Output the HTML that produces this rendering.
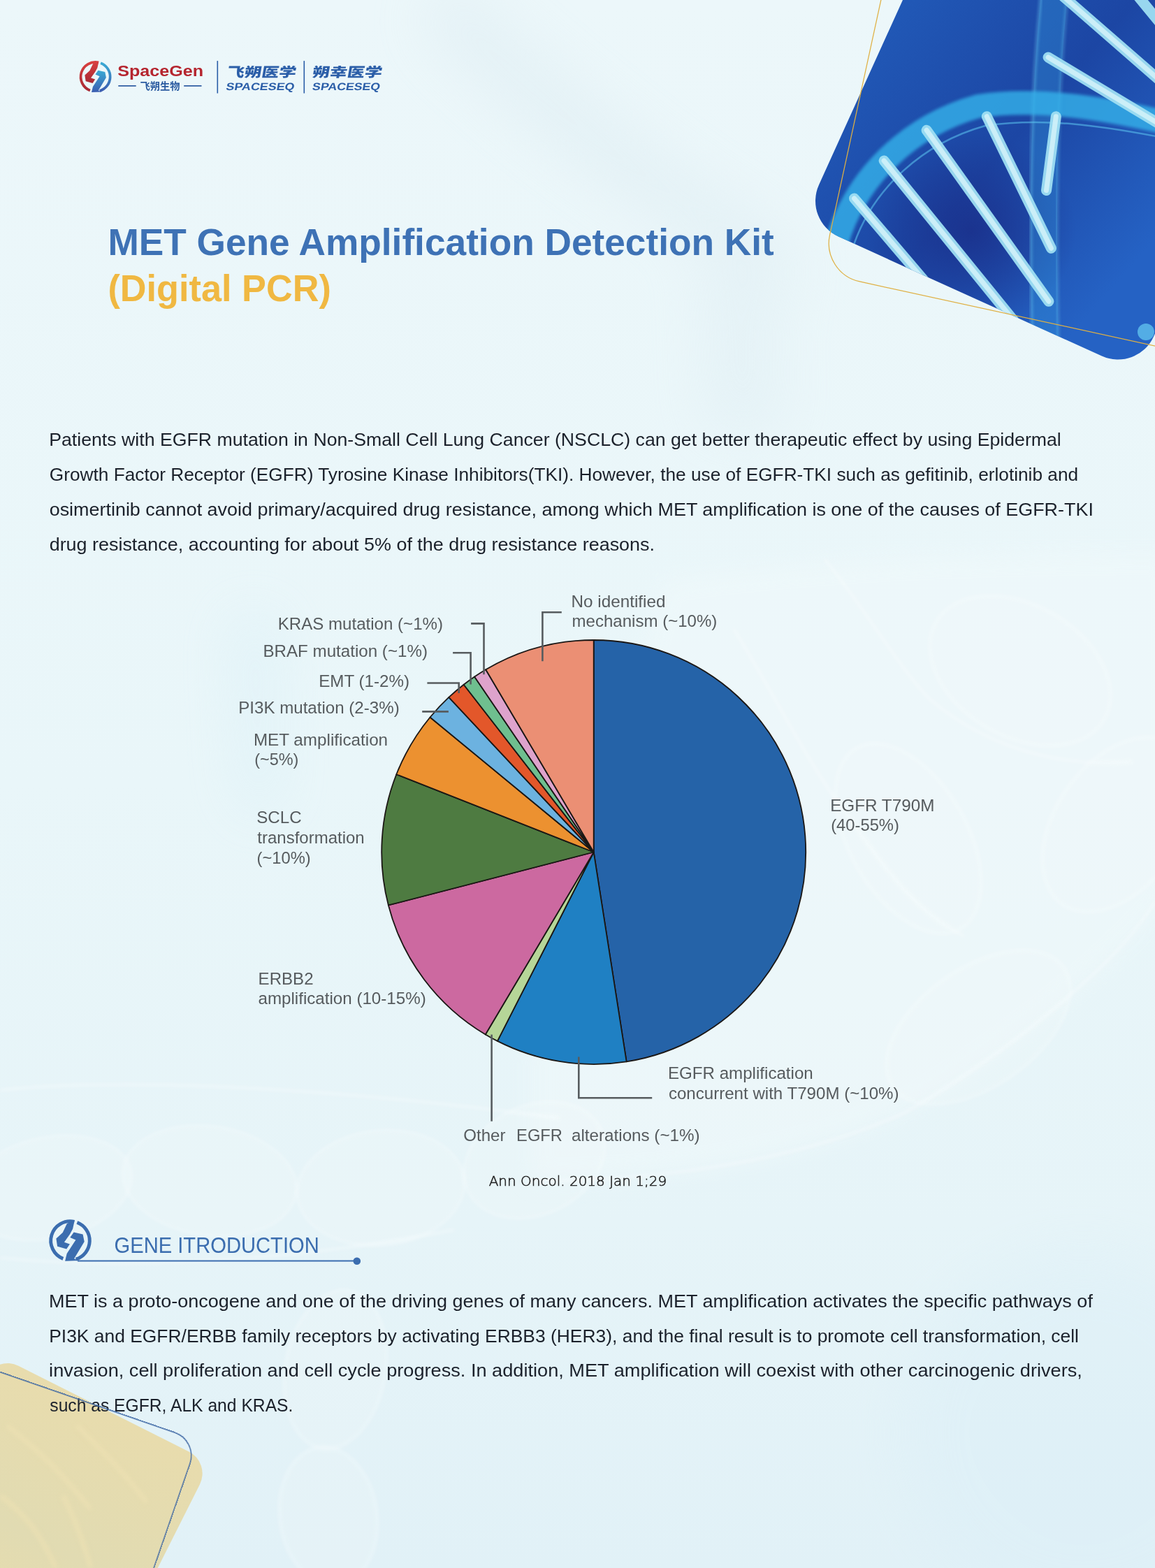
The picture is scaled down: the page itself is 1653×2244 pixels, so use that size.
<!DOCTYPE html>
<html><head><meta charset="utf-8"><title>MET Gene Amplification Detection Kit</title>
<style>
html,body{margin:0;padding:0;background:#e8f5f9;}
body{width:1653px;height:2244px;overflow:hidden;position:relative;}
svg{position:absolute;left:0;top:0;display:block;}
</style></head><body>
<svg width="1653" height="2244" viewBox="0 0 1653 2244">

<defs>
 <linearGradient id="bgg" x1="0" y1="0" x2="0" y2="1">
  <stop offset="0" stop-color="#ecf7fa"/><stop offset="0.5" stop-color="#e9f6f9"/><stop offset="0.78" stop-color="#e6f4f8"/><stop offset="1" stop-color="#e1f1f7"/>
 </linearGradient>
 <filter id="bgblur40" x="-50%" y="-50%" width="200%" height="200%"><feGaussianBlur stdDeviation="40"/></filter>
 <filter id="bgblur15" x="-50%" y="-50%" width="200%" height="200%"><feGaussianBlur stdDeviation="15"/></filter>
 <filter id="bgblur3" x="-20%" y="-20%" width="140%" height="140%"><feGaussianBlur stdDeviation="2.5"/></filter>
</defs>
<rect width="1653" height="2244" fill="url(#bgg)"/>
<g filter="url(#bgblur40)" opacity="0.3">
  <path d="M640,-40 C760,60 900,200 1120,330 L1150,420 C930,330 760,200 600,40 Z" fill="#d3e4ec"/>
  <path d="M1000,340 L1110,330 L1120,620 L1010,620 Z" fill="#d8e8ef"/>
  <path d="M330,880 L395,880 L400,1160 L345,1160 Z" fill="#cdeaf5"/>
  <ellipse cx="1550" cy="2050" rx="260" ry="260" fill="#d8edf7"/>
</g>
<g filter="url(#bgblur15)" opacity="0.5">
  <path d="M950,830 C1150,800 1400,790 1680,790 L1680,1280 C1600,1380 1450,1500 1300,1590 C1150,1660 950,1690 760,1690 L760,1500 C850,1300 900,1000 950,830 Z" fill="#f1f9fb"/>
</g>
<g filter="url(#bgblur3)">
  <g fill="#f3fafc" fill-opacity="0.2" stroke="#ffffff" stroke-opacity="0.4" stroke-width="2">
    <ellipse cx="70" cy="1700" rx="120" ry="72" transform="rotate(-12 70 1700)"/>
    <ellipse cx="300" cy="1690" rx="125" ry="78" transform="rotate(8 300 1690)"/>
    <ellipse cx="545" cy="1700" rx="120" ry="82" transform="rotate(-6 545 1700)"/>
    <ellipse cx="765" cy="1660" rx="105" ry="78" transform="rotate(-25 765 1660)"/>
    <ellipse cx="480" cy="1960" rx="72" ry="115" transform="rotate(10 480 1960)"/>
    <ellipse cx="470" cy="2170" rx="70" ry="100" transform="rotate(-8 470 2170)"/>
    <ellipse cx="1460" cy="960" rx="140" ry="95" transform="rotate(30 1460 960)"/>
    <ellipse cx="1300" cy="1200" rx="85" ry="150" transform="rotate(-30 1300 1200)"/>
    <ellipse cx="1400" cy="1470" rx="150" ry="85" transform="rotate(-35 1400 1470)"/>
    <ellipse cx="1600" cy="1180" rx="90" ry="140" transform="rotate(35 1600 1180)"/>
  </g>
  <g fill="none" stroke="#ffffff" stroke-opacity="0.5" stroke-width="2.5">
    <path d="M1180,800 C1230,860 1290,960 1330,1000 C1400,1060 1500,1100 1620,1090"/>
    <path d="M1050,900 C1100,980 1150,1080 1200,1150 C1260,1230 1300,1300 1380,1340"/>
    <path d="M1653,1290 C1600,1380 1450,1500 1300,1590 C1150,1660 950,1690 760,1690"/>
    <path d="M0,1560 C200,1540 500,1560 800,1600"/>
    <path d="M0,1800 C200,1820 450,1800 650,1760"/>
  </g>
</g>


<defs>
 <linearGradient id="dnabg" x1="0" y1="0" x2="1" y2="0.3">
   <stop offset="0" stop-color="#225cba"/><stop offset="0.55" stop-color="#1c46a4"/><stop offset="1" stop-color="#2562c4"/>
 </linearGradient>
 <radialGradient id="dnadark" cx="0.5" cy="0.5" r="0.5">
   <stop offset="0" stop-color="#1a2f8a" stop-opacity="0.85"/><stop offset="1" stop-color="#1a2f8a" stop-opacity="0"/>
 </radialGradient>
 <clipPath id="dnaclip"><rect x="0" y="-526" width="526" height="526" rx="56" transform="translate(1148.9,315.45) rotate(24.4)"/></clipPath>
 <linearGradient id="yel" x1="0" y1="0" x2="0" y2="1"><stop offset="0" stop-color="#e8dcad"/><stop offset="0.35" stop-color="#e1dbb2"/><stop offset="0.6" stop-color="#e8dcac"/><stop offset="1" stop-color="#e9dcaa"/></linearGradient>
 <filter id="blur2"><feGaussianBlur stdDeviation="2"/></filter>
 <filter id="blur3"><feGaussianBlur stdDeviation="3"/></filter>
 <filter id="blur8"><feGaussianBlur stdDeviation="8"/></filter>
 <filter id="blur20"><feGaussianBlur stdDeviation="20"/></filter>
</defs>
<rect x="0" y="-526" width="526" height="526" rx="56" fill="url(#dnabg)" transform="translate(1148.9,315.45) rotate(24.4)"/>
<g clip-path="url(#dnaclip)">
  <ellipse cx="1390" cy="330" rx="150" ry="140" fill="url(#dnadark)"/>
  <path d="M1509,-10 C1496,120 1490,260 1497,540" fill="none" stroke="#3aaeea" stroke-width="38" opacity="0.28"/>
  <path d="M1490,-10 C1477,120 1471,260 1478,540" fill="none" stroke="#72d2f5" stroke-width="3" opacity="0.55" filter="url(#blur2)"/>
  <path d="M1528,-10 C1515,120 1509,260 1516,540" fill="none" stroke="#72d2f5" stroke-width="2.5" opacity="0.5" filter="url(#blur2)"/>
  <path d="M1198,345 C1225,255 1300,180 1400,152 C1480,140 1570,152 1680,178" fill="none" stroke="#34b2ea" stroke-width="34" opacity="0.8" filter="url(#blur2)"/>
  <path d="M1222,350 C1250,270 1320,205 1410,180 C1490,168 1570,178 1680,200" fill="none" stroke="#5cc6f0" stroke-width="2.5" opacity="0.55"/>
  <g stroke="#9fdff3" stroke-width="15" stroke-linecap="round" fill="none" opacity="0.95">
    <line x1="1222.6" y1="284.0" x2="1330" y2="410"/>
    <line x1="1265.1" y1="230.0" x2="1460" y2="470"/>
    <line x1="1326.1" y1="186.3" x2="1500.9" y2="431.3"/>
    <line x1="1412.3" y1="166.7" x2="1504.4" y2="355.3"/>
    <line x1="1511.3" y1="166.7" x2="1497.5" y2="272.5"/>
    <line x1="1500.1" y1="82.0" x2="1670" y2="184"/>
    <line x1="1521.8" y1="-5" x2="1670" y2="124"/>
    <line x1="1629" y1="-5" x2="1670" y2="45"/>
  </g>
  <g stroke="#dcf6fb" stroke-width="7" stroke-linecap="round" fill="none" opacity="0.75">
    <line x1="1222.6" y1="284.0" x2="1330" y2="410"/>
    <line x1="1265.1" y1="230.0" x2="1460" y2="470"/>
    <line x1="1326.1" y1="186.3" x2="1500.9" y2="431.3"/>
    <line x1="1412.3" y1="166.7" x2="1504.4" y2="355.3"/>
    <line x1="1511.3" y1="166.7" x2="1497.5" y2="272.5"/>
    <line x1="1500.1" y1="82.0" x2="1670" y2="184"/>
    <line x1="1521.8" y1="-5" x2="1670" y2="124"/>
  </g>
  <circle cx="1640" cy="475" r="12" fill="#5fc0ee" opacity="0.8"/>
</g>
<rect x="0" y="-760" width="760" height="760" rx="56" fill="none" stroke="#dfb043" stroke-width="1.25" transform="translate(1175.6,391.0) rotate(12.3)"/>
<rect x="0" y="0" width="343" height="600" rx="35" fill="url(#yel)" transform="translate(-4.8,1939) rotate(26.7)"/>
<clipPath id="yclip"><rect x="0" y="0" width="343" height="600" rx="35" transform="translate(-4.8,1939) rotate(26.7)"/></clipPath>
<g clip-path="url(#yclip)" fill="none" stroke="#efe2b4" stroke-width="6" opacity="0.7" filter="url(#blur3)">
  <path d="M10,2040 C60,2080 90,2110 130,2160"/>
  <path d="M110,2040 C150,2080 180,2110 210,2150"/>
  <path d="M0,2140 C40,2170 60,2200 80,2244"/>
  <path d="M90,2140 C110,2180 120,2210 130,2244"/>
</g>


<defs>
 <linearGradient id="lr" x1="0" y1="0" x2="0" y2="1"><stop offset="0" stop-color="#d8403f"/><stop offset="1" stop-color="#a82a35"/></linearGradient>
 <linearGradient id="lb" x1="0" y1="0" x2="0" y2="1"><stop offset="0" stop-color="#3aa9d4"/><stop offset="1" stop-color="#3b5db0"/></linearGradient>
</defs>
<g transform="translate(136.6,109.9) scale(0.757)"><path d="M5.78,-27.19 A27.8,27.8 0 0 0 -10.19,25.87" fill="none" stroke="url(#lr)" stroke-width="4.9"/><path d="M9.87,-25.99 A27.8,27.8 0 0 1 8.13,26.59" fill="none" stroke="url(#lb)" stroke-width="4.9"/><path d="M-4.6,-24.5 L6.4,-29.4 L3.6,-16.7 L-0.6,-9.1 L-8.6,2.2 L-0.6,4.9 L-5.3,12.1 L-18.4,8.3 L-20.1,-3.1 L-10.8,-11.6 Z" fill="url(#lr)"/><path d="M-0.2,-4.6 L5.1,-12.0 L18.1,-9.1 L20.2,1.5 L5.6,25.8 L12.1,28.6 L-7.4,29.3 L-4.8,18.5 L7.9,-1.0 Z" fill="url(#lb)"/></g>
<text x="168.2" y="109.2" font-size="22" font-weight="700" fill="#b5252f" font-family="'Liberation Sans', Arial, sans-serif" textLength="122.8" lengthAdjust="spacingAndGlyphs" >SpaceGen</text>
<line x1="169.3" y1="122.9" x2="194.7" y2="122.9" stroke="#1f4f9a" stroke-width="1.6"/>
<line x1="263.2" y1="122.9" x2="288.5" y2="122.9" stroke="#1f4f9a" stroke-width="1.6"/>
<text x="200.6" y="127.6" font-size="14" font-weight="700" fill="#2a5aa0" font-family="'Liberation Sans','Noto Sans CJK SC',sans-serif" textLength="57" lengthAdjust="spacingAndGlyphs" >飞朔生物</text>
<line x1="311.3" y1="87.1" x2="311.3" y2="133.5" stroke="#2b5ea8" stroke-width="1.6"/>
<line x1="435.3" y1="87.1" x2="435.3" y2="133.5" stroke="#2b5ea8" stroke-width="1.6"/>
<g transform="translate(0,0) skewX(-10)"><text x="343.448" y="110.5" font-size="19" font-weight="900" fill="#2b5ea8" font-family="'Liberation Sans','Noto Sans CJK SC',sans-serif" textLength="99" lengthAdjust="spacingAndGlyphs" >飞朔医学</text><text x="465.448" y="110.5" font-size="19" font-weight="900" fill="#2b5ea8" font-family="'Liberation Sans','Noto Sans CJK SC',sans-serif" textLength="100" lengthAdjust="spacingAndGlyphs" >朔幸医学</text><text x="345.4688" y="128.8" font-size="15" font-weight="700" fill="#2b5ea8" font-family="'Liberation Sans', Arial, sans-serif" textLength="98" lengthAdjust="spacingAndGlyphs" >SPACESEQ</text><text x="469.06879999999995" y="128.8" font-size="15" font-weight="700" fill="#2b5ea8" font-family="'Liberation Sans', Arial, sans-serif" textLength="97" lengthAdjust="spacingAndGlyphs" >SPACESEQ</text></g>
<text x="154.4" y="364.6" font-size="53" font-weight="700" fill="#3e72b5" font-family="'Liberation Sans', Arial, sans-serif" textLength="953.4" lengthAdjust="spacingAndGlyphs" >MET Gene Amplification Detection Kit</text>
<text x="154.4" y="431.0" font-size="53" font-weight="700" fill="#f0b842" font-family="'Liberation Sans', Arial, sans-serif" textLength="319.4" lengthAdjust="spacingAndGlyphs" >(Digital PCR)</text>
<text x="70.2" y="638.1" font-size="25" font-weight="400" fill="#1b212b" font-family="'Liberation Sans', Arial, sans-serif" textLength="1448.6" lengthAdjust="spacingAndGlyphs" >Patients with EGFR mutation in Non-Small Cell Lung Cancer (NSCLC) can get better therapeutic effect by using Epidermal</text>
<text x="70.8" y="688.0" font-size="25" font-weight="400" fill="#1b212b" font-family="'Liberation Sans', Arial, sans-serif" textLength="1472.3" lengthAdjust="spacingAndGlyphs" >Growth Factor Receptor (EGFR) Tyrosine Kinase Inhibitors(TKI). However, the use of EGFR-TKI such as gefitinib, erlotinib and</text>
<text x="70.7" y="737.8" font-size="25" font-weight="400" fill="#1b212b" font-family="'Liberation Sans', Arial, sans-serif" textLength="1494.2" lengthAdjust="spacingAndGlyphs" >osimertinib cannot avoid primary/acquired drug resistance, among which MET amplification is one of the causes of EGFR-TKI</text>
<text x="70.7" y="787.5" font-size="25" font-weight="400" fill="#1b212b" font-family="'Liberation Sans', Arial, sans-serif" textLength="866.3" lengthAdjust="spacingAndGlyphs" >drug resistance, accounting for about 5% of the drug resistance reasons.</text>
<text x="70.1" y="1870.9" font-size="25" font-weight="400" fill="#1b212b" font-family="'Liberation Sans', Arial, sans-serif" textLength="1493.8" lengthAdjust="spacingAndGlyphs" >MET is a proto-oncogene and one of the driving genes of many cancers. MET amplification activates the specific pathways of</text>
<text x="70.2" y="1920.6" font-size="25" font-weight="400" fill="#1b212b" font-family="'Liberation Sans', Arial, sans-serif" textLength="1473.8" lengthAdjust="spacingAndGlyphs" >PI3K and EGFR/ERBB family receptors by activating ERBB3 (HER3), and the final result is to promote cell transformation, cell</text>
<text x="70.1" y="1970.4" font-size="25" font-weight="400" fill="#1b212b" font-family="'Liberation Sans', Arial, sans-serif" textLength="1478.8" lengthAdjust="spacingAndGlyphs" >invasion, cell proliferation and cell cycle progress. In addition, MET amplification will coexist with other carcinogenic drivers,</text>
<text x="71.3" y="2020.3" font-size="25" font-weight="400" fill="#1b212b" font-family="'Liberation Sans', Arial, sans-serif" textLength="348.1" lengthAdjust="spacingAndGlyphs" >such as EGFR, ALK and KRAS.</text>
<path d="M849.70,1219.50 L849.70,916.00 A303.5,303.5 0 0 1 896.65,1519.35 Z" fill="#2563a8" stroke="#1b1715" stroke-width="1.8" stroke-linejoin="round"/>
<path d="M849.70,1219.50 L896.65,1519.35 A303.5,303.5 0 0 1 711.91,1489.92 Z" fill="#1f80c3" stroke="#1b1715" stroke-width="1.8" stroke-linejoin="round"/>
<path d="M849.70,1219.50 L711.91,1489.92 A303.5,303.5 0 0 1 694.75,1480.47 Z" fill="#b6d698" stroke="#1b1715" stroke-width="1.8" stroke-linejoin="round"/>
<path d="M849.70,1219.50 L694.75,1480.47 A303.5,303.5 0 0 1 555.87,1295.49 Z" fill="#cc69a0" stroke="#1b1715" stroke-width="1.8" stroke-linejoin="round"/>
<path d="M849.70,1219.50 L555.87,1295.49 A303.5,303.5 0 0 1 567.32,1108.27 Z" fill="#4e7b41" stroke="#1b1715" stroke-width="1.8" stroke-linejoin="round"/>
<path d="M849.70,1219.50 L567.32,1108.27 A303.5,303.5 0 0 1 615.51,1026.45 Z" fill="#ec9130" stroke="#1b1715" stroke-width="1.8" stroke-linejoin="round"/>
<path d="M849.70,1219.50 L615.51,1026.45 A303.5,303.5 0 0 1 642.33,997.90 Z" fill="#6cb2e0" stroke="#1b1715" stroke-width="1.8" stroke-linejoin="round"/>
<path d="M849.70,1219.50 L642.33,997.90 A303.5,303.5 0 0 1 663.68,979.69 Z" fill="#e3572a" stroke="#1b1715" stroke-width="1.8" stroke-linejoin="round"/>
<path d="M849.70,1219.50 L663.68,979.69 A303.5,303.5 0 0 1 679.11,968.48 Z" fill="#6fbf8f" stroke="#1b1715" stroke-width="1.8" stroke-linejoin="round"/>
<path d="M849.70,1219.50 L679.11,968.48 A303.5,303.5 0 0 1 695.21,958.26 Z" fill="#dea3cc" stroke="#1b1715" stroke-width="1.8" stroke-linejoin="round"/>
<path d="M849.70,1219.50 L695.21,958.26 A303.5,303.5 0 0 1 849.70,916.00 Z" fill="#eb8f74" stroke="#1b1715" stroke-width="1.8" stroke-linejoin="round"/>
<path d="M604.2,1018.4 H641.9" fill="none" stroke="#575c5f" stroke-width="2.6"/>
<path d="M611.4,977.5 H656.7 V992" fill="none" stroke="#575c5f" stroke-width="2.6"/>
<path d="M648.1,934.2 H673.6 V979.6" fill="none" stroke="#575c5f" stroke-width="2.6"/>
<path d="M674.1,892.4 H692.5 V965.2" fill="none" stroke="#575c5f" stroke-width="2.6"/>
<path d="M803.8,876.3 H776.4 V946.2" fill="none" stroke="#575c5f" stroke-width="2.6"/>
<path d="M703.6,1480.6 V1604.7" fill="none" stroke="#575c5f" stroke-width="2.6"/>
<path d="M828.3,1512.6 V1571.3 H933.2" fill="none" stroke="#575c5f" stroke-width="2.6"/>
<text x="397.7" y="900.8" font-size="23.7" font-weight="400" fill="#565b5e" font-family="'Liberation Sans', Arial, sans-serif" textLength="236.3" lengthAdjust="spacingAndGlyphs" >KRAS mutation (~1%)</text>
<text x="376.4" y="939.7" font-size="23.7" font-weight="400" fill="#565b5e" font-family="'Liberation Sans', Arial, sans-serif" textLength="235.6" lengthAdjust="spacingAndGlyphs" >BRAF mutation (~1%)</text>
<text x="456.2" y="982.9" font-size="23.7" font-weight="400" fill="#565b5e" font-family="'Liberation Sans', Arial, sans-serif" textLength="129.8" lengthAdjust="spacingAndGlyphs" >EMT (1-2%)</text>
<text x="341.2" y="1021.1" font-size="23.7" font-weight="400" fill="#565b5e" font-family="'Liberation Sans', Arial, sans-serif" textLength="230.5" lengthAdjust="spacingAndGlyphs" >PI3K mutation (2-3%)</text>
<text x="362.9" y="1066.8" font-size="23.7" font-weight="400" fill="#565b5e" font-family="'Liberation Sans', Arial, sans-serif" textLength="192.2" lengthAdjust="spacingAndGlyphs" >MET amplification</text>
<text x="364.2" y="1095.1" font-size="23.7" font-weight="400" fill="#565b5e" font-family="'Liberation Sans', Arial, sans-serif" textLength="63.2" lengthAdjust="spacingAndGlyphs" >(~5%)</text>
<text x="367.3" y="1178.3" font-size="23.7" font-weight="400" fill="#565b5e" font-family="'Liberation Sans', Arial, sans-serif" textLength="64.3" lengthAdjust="spacingAndGlyphs" >SCLC</text>
<text x="368.3" y="1207.0" font-size="23.7" font-weight="400" fill="#565b5e" font-family="'Liberation Sans', Arial, sans-serif" textLength="153.4" lengthAdjust="spacingAndGlyphs" >transformation</text>
<text x="367.6" y="1235.8" font-size="23.7" font-weight="400" fill="#565b5e" font-family="'Liberation Sans', Arial, sans-serif" textLength="77.1" lengthAdjust="spacingAndGlyphs" >(~10%)</text>
<text x="369.6" y="1408.6" font-size="23.7" font-weight="400" fill="#565b5e" font-family="'Liberation Sans', Arial, sans-serif" textLength="79.0" lengthAdjust="spacingAndGlyphs" >ERBB2</text>
<text x="369.5" y="1437.3" font-size="23.7" font-weight="400" fill="#565b5e" font-family="'Liberation Sans', Arial, sans-serif" textLength="240.2" lengthAdjust="spacingAndGlyphs" >amplification (10-15%)</text>
<text x="817.6" y="868.5" font-size="23.7" font-weight="400" fill="#565b5e" font-family="'Liberation Sans', Arial, sans-serif" textLength="134.9" lengthAdjust="spacingAndGlyphs" >No identified</text>
<text x="818.6" y="897.0" font-size="23.7" font-weight="400" fill="#565b5e" font-family="'Liberation Sans', Arial, sans-serif" textLength="207.7" lengthAdjust="spacingAndGlyphs" >mechanism (~10%)</text>
<text x="1188.2" y="1160.5" font-size="23.7" font-weight="400" fill="#565b5e" font-family="'Liberation Sans', Arial, sans-serif" textLength="149.2" lengthAdjust="spacingAndGlyphs" >EGFR T790M</text>
<text x="1189.2" y="1189.4" font-size="23.7" font-weight="400" fill="#565b5e" font-family="'Liberation Sans', Arial, sans-serif" textLength="97.7" lengthAdjust="spacingAndGlyphs" >(40-55%)</text>
<text x="955.9" y="1543.5" font-size="23.7" font-weight="400" fill="#565b5e" font-family="'Liberation Sans', Arial, sans-serif" textLength="207.9" lengthAdjust="spacingAndGlyphs" >EGFR amplification</text>
<text x="956.9" y="1572.7" font-size="23.7" font-weight="400" fill="#565b5e" font-family="'Liberation Sans', Arial, sans-serif" textLength="329.6" lengthAdjust="spacingAndGlyphs" >concurrent with T790M (~10%)</text>
<text x="663.3" y="1632.7" font-size="23.7" font-weight="400" fill="#565b5e" font-family="'Liberation Sans', Arial, sans-serif" textLength="60.1" lengthAdjust="spacingAndGlyphs" >Other</text>
<text x="739.1" y="1632.7" font-size="23.7" font-weight="400" fill="#565b5e" font-family="'Liberation Sans', Arial, sans-serif" textLength="65.8" lengthAdjust="spacingAndGlyphs" >EGFR</text>
<text x="818.0" y="1632.7" font-size="23.7" font-weight="400" fill="#565b5e" font-family="'Liberation Sans', Arial, sans-serif" textLength="183.6" lengthAdjust="spacingAndGlyphs" >alterations (~1%)</text>
<text x="699.7" y="1697" font-size="19.5" font-weight="200" fill="#1e1e1e" font-family="'DejaVu Sans','Liberation Sans',sans-serif" textLength="254.5" lengthAdjust="spacingAndGlyphs" stroke="#1e1e1e" stroke-width="0.55">Ann Oncol. 2018 Jan 1;29</text>

<line x1="111" y1="1804.6" x2="508" y2="1804.6" stroke="#3b6daf" stroke-width="2"/>
<circle cx="510.8" cy="1804.8" r="5.3" fill="#3b6daf"/>
<g transform="translate(100.5,1775.5)"><path d="M5.78,-27.19 A27.8,27.8 0 0 0 -10.19,25.87" fill="none" stroke="#3b6daf" stroke-width="4.9"/><path d="M9.87,-25.99 A27.8,27.8 0 0 1 8.13,26.59" fill="none" stroke="#3b6daf" stroke-width="4.9"/><path d="M-4.6,-24.5 L6.4,-29.4 L3.6,-16.7 L-0.6,-9.1 L-8.6,2.2 L-0.6,4.9 L-5.3,12.1 L-18.4,8.3 L-20.1,-3.1 L-10.8,-11.6 Z" fill="#3b6daf"/><path d="M-0.2,-4.6 L5.1,-12.0 L18.1,-9.1 L20.2,1.5 L5.6,25.8 L12.1,28.6 L-7.4,29.3 L-4.8,18.5 L7.9,-1.0 Z" fill="#3b6daf"/></g>
<text x="163.5" y="1792.5" font-size="30.5" font-weight="400" fill="#3b6daf" font-family="'Liberation Sans', Arial, sans-serif" textLength="293.3" lengthAdjust="spacingAndGlyphs" >GENE ITRODUCTION</text>
<rect x="-600" y="0" width="600" height="600" rx="35" fill="none" stroke="#3a64a2" stroke-width="1.4" transform="translate(283.3,2061.6) rotate(19.1)"/>
</svg>
</body></html>
